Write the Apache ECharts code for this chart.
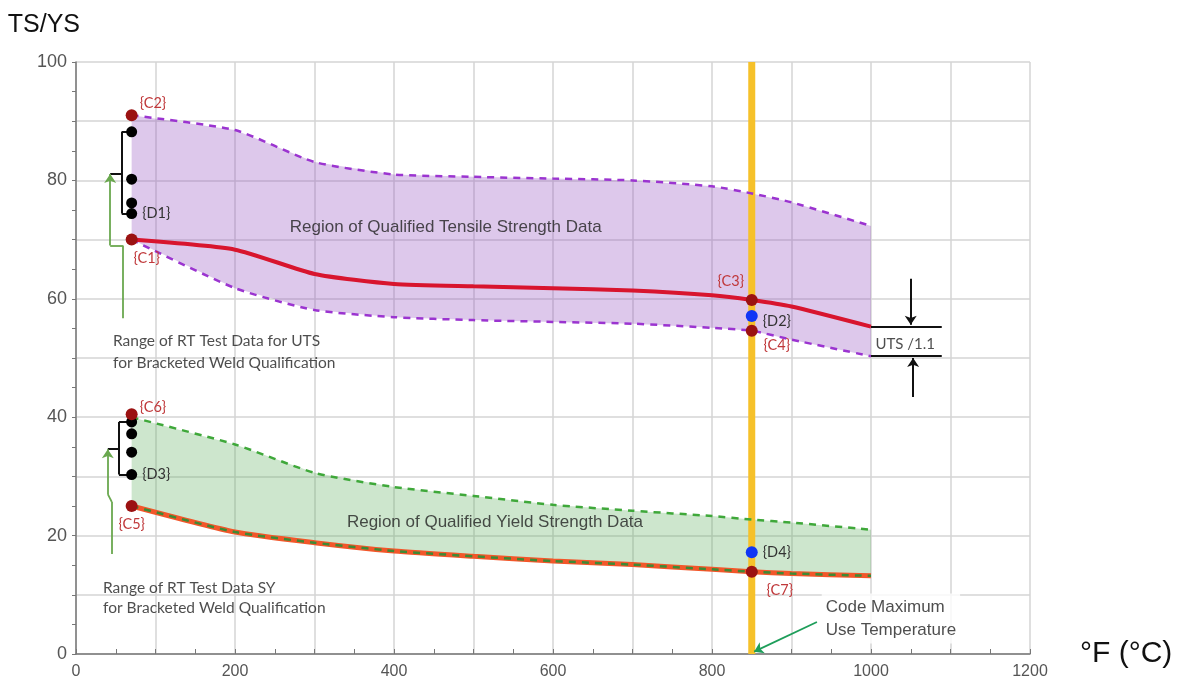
<!DOCTYPE html>
<html>
<head>
<meta charset="utf-8">
<script src="https://cdn.jsdelivr.net/npm/echarts@6/dist/echarts.min.js"></script>
<style>
html, body { margin: 0; padding: 0; background: #fff; }
#myCharts { width: 1183px; height: 692px; }
</style>
</head>
<body>
<div id="myCharts"></div>
<script>
// temperatures (F) where the curves were read
let tempF = [70, 200, 300, 400, 500, 600, 700, 800, 850, 900, 1000];
let tsUpper = [91, 88.5, 83.1, 81, 80.6, 80.3, 80, 79, 77.8, 76.3, 72.3];
let tsTrend = [70, 68.3, 64.2, 62.5, 62.1, 61.8, 61.4, 60.6, 59.8, 58.7, 55.3];
let tsLower = [70, 61.8, 58.1, 56.9, 56.4, 56.1, 55.8, 55.1, 54.6, 53.1, 50.3];
let ysUpper = [40, 35.4, 30.6, 28.2, 26.7, 25.2, 24.2, 23.3, 22.7, 22.2, 21];
let ysLower = [25, 20.6, 18.8, 17.4, 16.5, 15.7, 15.1, 14.3, 13.9, 13.6, 13.2];

// RT test data (black dots) at 70 F
let rtTemp = 70;
let rtTs = [88.2, 80.2, 76.2, 74.4];
let rtYs = [39.2, 37.2, 34.1, 30.3];

// named points
let redPts = [["{C1}", 70, 70], ["{C2}", 70, 91], ["{C3}", 850, 59.8], ["{C4}", 850, 54.6],
  ["{C5}", 70, 25], ["{C6}", 70, 40.5], ["{C7}", 850, 13.9]];
let bluePts = [["{D2}", 850, 57.1], ["{D4}", 850, 17.2]];
let maxUseTemp = 850;

let xTicks = [0, 200, 400, 600, 800, 1000, 1200];
let yTicks = [0, 20, 40, 60, 80, 100];

// annotation line pieces [x1, y1, x2, y2, color, arrowAtEnd]
let annoSegments = [
  // TS bracket
  [70, 88.2, 57.5, 88.2, "#111", false], [57.5, 88.2, 57.5, 74.4, "#111", false],
  [57.5, 74.4, 70, 74.4, "#111", false], [57.5, 81.1, 43, 81.1, "#111", false],
  // TS green arrow
  [59, 56.7, 59, 69, "#6aa84f", false], [59, 69, 43, 69, "#6aa84f", false],
  [43, 69, 43, 81.1, "#6aa84f", true],
  // YS bracket
  [70, 39.2, 54, 39.2, "#111", false], [54, 39.2, 54, 30.3, "#111", false],
  [54, 30.3, 70, 30.3, "#111", false], [54, 34.6, 40, 34.6, "#111", false],
  // YS green arrow
  [45, 16.9, 45, 25.7, "#6aa84f", false], [45, 25.7, 40, 27, "#6aa84f", false],
  [40, 27, 40, 34.6, "#6aa84f", true],
  // UTS/1.1 marker
  [1000, 55.3, 1089, 55.3, "#111", false], [1000, 50.3, 1089, 50.3, "#111", false],
  [1050, 63.4, 1050, 55.6, "#111", true], [1053, 43.4, 1053, 50.0, "#111", true],
  // code max temperature arrow
  [932, 5.4, 853, 0.4, "#1e9e5a", true]
];

let notes = [
  { text: "Region of Qualified Tensile Strength Data", at: [465, 72], pos: "inside", font: "Liberation Sans", size: 17 },
  { text: "Region of Qualified Yield Strength Data", at: [527, 22.3], pos: "inside", font: "Liberation Sans", size: 17 },
  { text: "Range of RT Test Data for UTS\nfor Bracketed Weld Qualification", at: [46.5, 51], pos: "right", font: "Lato", size: 15.5, lh: 22 },
  { text: "Range of RT Test Data SY\nfor Bracketed Weld Qualification", at: [34, 9.5], pos: "right", font: "Lato", size: 15.5, lh: 20 },
  { text: "UTS /1.1", at: [1043, 52.3], pos: "inside", font: "Lato", size: 15 },
  { text: "Code Maximum\nUse Temperature", at: [938, 6.0], pos: "right", font: "Liberation Sans", size: 17, lh: 23, bg: "#fff" }
];

let labelCfg = {
  "{C1}": { position: "bottom", offset: [15, 0] },
  "{C2}": { position: "right", distance: 2, offset: [0, -12] },
  "{C3}": { position: "top", offset: [-21, 0] },
  "{C4}": { position: "bottom", offset: [25, -4] },
  "{C5}": { position: "bottom", offset: [0, 0] },
  "{C6}": { position: "right", distance: 2, offset: [0, -7] },
  "{C7}": { position: "bottom", offset: [28, 0] },
  "{D1}": { position: "right", distance: 5 },
  "{D2}": { position: "right", distance: 5, offset: [0, 5] },
  "{D3}": { position: "right", distance: 5 },
  "{D4}": { position: "right", distance: 5 }
};

function pts(ys) {
  return tempF.map((x, i) => [x, ys[i]]);
}

function band(upper, lower, fill) {
  return {
    type: "custom",
    z: 1,
    silent: true,
    data: pts(upper),
    renderItem: function (params, api) {
      if (params.dataIndex !== 0) return null;
      let poly = [];
      tempF.forEach((x, i) => poly.push(api.coord([x, upper[i]])));
      for (let i = tempF.length - 1; i >= 0; i--) poly.push(api.coord([tempF[i], lower[i]]));
      return { type: "polygon", shape: { points: poly }, style: { fill: fill } };
    }
  };
}

function curve(ys, color, width, dashed, z) {
  return {
    type: "line",
    data: pts(ys),
    smooth: 0.2,
    symbol: "none",
    z: z,
    silent: true,
    lineStyle: { color: color, width: width, type: dashed ? [7, 6] : "solid" }
  };
}

function labelFor(name, color) {
  let c = labelCfg[name] || {};
  return Object.assign({
    show: true,
    formatter: name,
    color: color,
    fontFamily: "Lato",
    fontSize: 14.5
  }, c);
}

let markData = annoSegments.map(s => [
  { coord: [s[0], s[1]], symbol: "none", lineStyle: { color: s[4], width: s[4] === "#111" ? 2 : 1.8, type: "solid" } },
  { coord: [s[2], s[3]], symbol: s[5] ? "arrow" : "none" }
]);

let option = {
  animation: false,
  grid: { left: 76, right: 153, top: 62, bottom: 38 },
  xAxis: {
    type: "value",
    min: 0, max: 1200, interval: 100,
    name: "°F (°C)",
    nameLocation: "end",
    nameGap: 50,
    nameTextStyle: { fontFamily: "Liberation Sans", fontSize: 30, color: "#111", padding: [30, 0, 0, 0] },
    axisLine: { lineStyle: { color: "#777", width: 1.5 } },
    axisTick: { inside: true, length: 5, lineStyle: { color: "#777" } },
    minorTick: { show: true, splitNumber: 2, length: 5, lineStyle: { color: "#777" } },
    axisLabel: {
      color: "#555", fontFamily: "Liberation Sans", fontSize: 16, margin: 10,
      formatter: v => (xTicks.indexOf(v) >= 0 ? String(v) : "")
    },
    splitLine: { show: true, lineStyle: { color: "#d4d4d4", width: 1.5 } }
  },
  yAxis: {
    type: "value",
    min: 0, max: 100, interval: 10,
    name: "TS/YS",
    nameLocation: "end",
    nameGap: 24,
    nameTextStyle: { fontFamily: "Liberation Sans", fontSize: 25, color: "#111", align: "right", padding: [0, -4, 0, 0] },
    axisLine: { show: true, lineStyle: { color: "#777", width: 1.5 } },
    axisTick: { show: true, length: 4, lineStyle: { color: "#777" } },
    minorTick: { show: true, splitNumber: 2, length: 4, lineStyle: { color: "#777" } },
    axisLabel: {
      color: "#555", fontFamily: "Liberation Sans", fontSize: 18, margin: 9,
      formatter: v => (yTicks.indexOf(v) >= 0 ? String(v) : "")
    },
    splitLine: { show: true, lineStyle: { color: "#d4d4d4", width: 1.5 } }
  },
  series: [
    band(tsUpper, tsLower, "rgba(142,72,188,0.3)"),
    band(ysUpper, ysLower, "rgba(88,172,88,0.3)"),
    {
      type: "line",
      data: [[maxUseTemp, 0], [maxUseTemp, 100]],
      symbol: "none",
      z: 2,
      silent: true,
      lineStyle: { color: "#f6c12a", width: 7 },
      markLine: {
        silent: true,
        symbolSize: 9,
        label: { show: false },
        lineStyle: { type: "solid" },
        data: markData
      }
    },
    curve(tsUpper, "#9b34d0", 2.5, true, 3),
    curve(tsLower, "#9b34d0", 2.5, true, 3),
    curve(tsTrend, "#d8152e", 4, false, 4),
    curve(ysUpper, "#3fa83a", 2.5, true, 3),
    curve(ysLower, "#f2572a", 5, false, 4),
    curve(ysLower, "#3d8a35", 2.5, true, 5),
    {
      type: "scatter",
      z: 6,
      symbolSize: 11,
      itemStyle: { color: "#000", opacity: 1 },
      data: rtTs.concat(rtYs).map((y, i) => {
        let item = { value: [rtTemp, y] };
        if (i === rtTs.length - 1) item.label = labelFor("{D1}", "#333");
        if (i === rtTs.length + rtYs.length - 1) item.label = labelFor("{D3}", "#333");
        return item;
      })
    },
    {
      type: "scatter",
      z: 7,
      symbolSize: 12,
      itemStyle: { color: "#9b1212", opacity: 1 },
      data: redPts.map(p => ({ value: [p[1], p[2]], label: labelFor(p[0], "#c0393b") }))
    },
    {
      type: "scatter",
      z: 7,
      symbolSize: 12,
      itemStyle: { color: "#1136f5", opacity: 1 },
      data: bluePts.map(p => ({ value: [p[1], p[2]], label: labelFor(p[0], "#333") }))
    },
    {
      type: "scatter",
      z: 8,
      symbolSize: 0,
      silent: true,
      data: notes.map(n => ({
        value: n.at,
        label: {
          show: true,
          formatter: n.text,
          position: n.pos,
          distance: 0,
          color: "#222",
          fontFamily: n.font,
          fontSize: n.size,
          lineHeight: n.lh || n.size + 4,
          backgroundColor: n.bg || "transparent",
          padding: n.bg ? [2, 4] : 0
        }
      }))
    }
  ]
};

let myChart = echarts.init(document.getElementById("myCharts"));
myChart.setOption(option);
</script>
</body>
</html>
